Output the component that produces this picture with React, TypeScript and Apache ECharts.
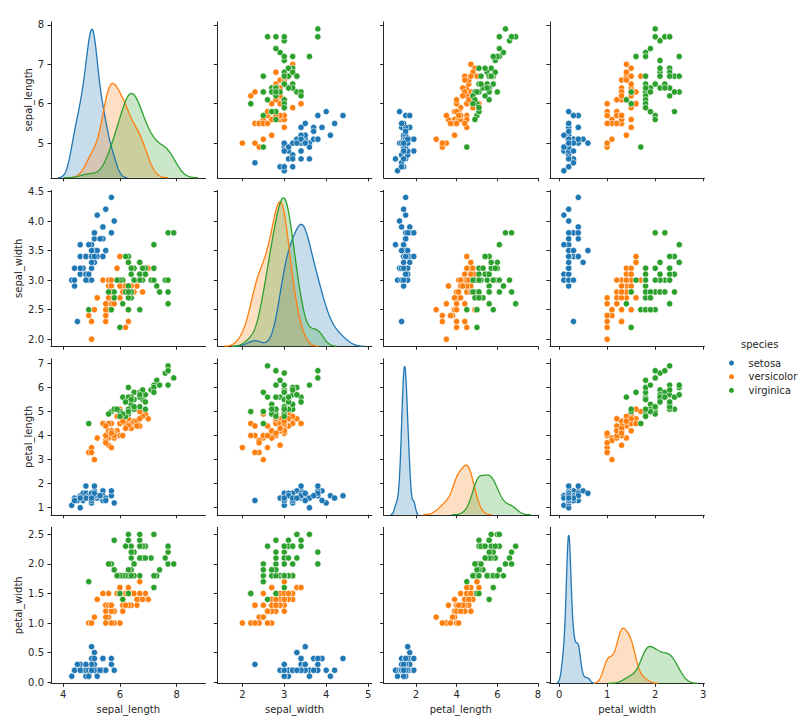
import React, { useEffect, useRef } from "react";
import * as echarts from "echarts";

const SPECIES = ["setosa", "versicolor", "virginica"];
const VARIABLES = ["sepal_length", "sepal_width", "petal_length", "petal_width"];
const COLORS = ["#1f77b4", "#ff7f0e", "#2ca02c"];

// Iris data (seaborn iris.csv), one array per species and variable
const setosaSepalLength = [5.1,4.9,4.7,4.6,5.0,5.4,4.6,5.0,4.4,4.9,5.4,4.8,4.8,4.3,5.8,5.7,5.4,5.1,5.7,5.1,5.4,5.1,4.6,5.1,4.8,5.0,5.0,5.2,5.2,4.7,4.8,5.4,5.2,5.5,4.9,5.0,5.5,4.9,4.4,5.1,5.0,4.5,4.4,5.0,5.1,4.8,5.1,4.6,5.3,5.0];
const setosaSepalWidth = [3.5,3.0,3.2,3.1,3.6,3.9,3.4,3.4,2.9,3.1,3.7,3.4,3.0,3.0,4.0,4.4,3.9,3.5,3.8,3.8,3.4,3.7,3.6,3.3,3.4,3.0,3.4,3.5,3.4,3.2,3.1,3.4,4.1,4.2,3.1,3.2,3.5,3.6,3.0,3.4,3.5,2.3,3.2,3.5,3.8,3.0,3.8,3.2,3.7,3.3];
const setosaPetalLength = [1.4,1.4,1.3,1.5,1.4,1.7,1.4,1.5,1.4,1.5,1.5,1.6,1.4,1.1,1.2,1.5,1.3,1.4,1.7,1.5,1.7,1.5,1.0,1.7,1.9,1.6,1.6,1.5,1.4,1.6,1.6,1.5,1.5,1.4,1.5,1.2,1.3,1.4,1.3,1.5,1.3,1.3,1.3,1.6,1.9,1.4,1.6,1.4,1.5,1.4];
const setosaPetalWidth = [0.2,0.2,0.2,0.2,0.2,0.4,0.3,0.2,0.2,0.1,0.2,0.2,0.1,0.1,0.2,0.4,0.4,0.3,0.3,0.3,0.2,0.4,0.2,0.5,0.2,0.2,0.4,0.2,0.2,0.2,0.2,0.4,0.1,0.2,0.2,0.2,0.2,0.1,0.2,0.2,0.3,0.3,0.2,0.6,0.4,0.3,0.2,0.2,0.2,0.2];

const versicolorSepalLength = [7.0,6.4,6.9,5.5,6.5,5.7,6.3,4.9,6.6,5.2,5.0,5.9,6.0,6.1,5.6,6.7,5.6,5.8,6.2,5.6,5.9,6.1,6.3,6.1,6.4,6.6,6.8,6.7,6.0,5.7,5.5,5.5,5.8,6.0,5.4,6.0,6.7,6.3,5.6,5.5,5.5,6.1,5.8,5.0,5.6,5.7,5.7,6.2,5.1,5.7];
const versicolorSepalWidth = [3.2,3.2,3.1,2.3,2.8,2.8,3.3,2.4,2.9,2.7,2.0,3.0,2.2,2.9,2.9,3.1,3.0,2.7,2.2,2.5,3.2,2.8,2.5,2.8,2.9,3.0,2.8,3.0,2.9,2.6,2.4,2.4,2.7,2.7,3.0,3.4,3.1,2.3,3.0,2.5,2.6,3.0,2.6,2.3,2.7,3.0,2.9,2.9,2.5,2.8];
const versicolorPetalLength = [4.7,4.5,4.9,4.0,4.6,4.5,4.7,3.3,4.6,3.9,3.5,4.2,4.0,4.7,3.6,4.4,4.5,4.1,4.5,3.9,4.8,4.0,4.9,4.7,4.3,4.4,4.8,5.0,4.5,3.5,3.8,3.7,3.9,5.1,4.5,4.5,4.7,4.4,4.1,4.0,4.4,4.6,4.0,3.3,4.2,4.2,4.2,4.3,3.0,4.1];
const versicolorPetalWidth = [1.4,1.5,1.5,1.3,1.5,1.3,1.6,1.0,1.3,1.4,1.0,1.5,1.0,1.4,1.3,1.4,1.5,1.0,1.5,1.1,1.8,1.3,1.5,1.2,1.3,1.4,1.4,1.7,1.5,1.0,1.1,1.0,1.2,1.6,1.5,1.6,1.5,1.3,1.3,1.3,1.2,1.4,1.2,1.0,1.3,1.2,1.3,1.3,1.1,1.3];

const virginicaSepalLength = [6.3,5.8,7.1,6.3,6.5,7.6,4.9,7.3,6.7,7.2,6.5,6.4,6.8,5.7,5.8,6.4,6.5,7.7,7.7,6.0,6.9,5.6,7.7,6.3,6.7,7.2,6.2,6.1,6.4,7.2,7.4,7.9,6.4,6.3,6.1,7.7,6.3,6.4,6.0,6.9,6.7,6.9,5.8,6.8,6.7,6.7,6.3,6.5,6.2,5.9];
const virginicaSepalWidth = [3.3,2.7,3.0,2.9,3.0,3.0,2.5,2.9,2.5,3.6,3.2,2.7,3.0,2.5,2.8,3.2,3.0,3.8,2.6,2.2,3.2,2.8,2.8,2.7,3.3,3.2,2.8,3.0,2.8,3.0,2.8,3.8,2.8,2.8,2.6,3.0,3.4,3.1,3.0,3.1,3.1,3.1,2.7,3.2,3.3,3.0,2.5,3.0,3.4,3.0];
const virginicaPetalLength = [6.0,5.1,5.9,5.6,5.8,6.6,4.5,6.3,5.8,6.1,5.1,5.3,5.5,5.0,5.1,5.3,5.5,6.7,6.9,5.0,5.7,4.9,6.7,4.9,5.7,6.0,4.8,4.9,5.6,5.8,6.1,6.4,5.6,5.1,5.6,6.1,5.6,5.5,4.8,5.4,5.6,5.1,5.1,5.9,5.7,5.2,5.0,5.2,5.4,5.1];
const virginicaPetalWidth = [2.5,1.9,2.1,1.8,2.2,2.1,1.7,1.8,1.8,2.5,2.0,1.9,2.1,2.0,2.4,2.3,1.8,2.2,2.3,1.5,2.3,2.0,2.0,1.8,2.1,1.8,1.8,1.8,2.1,1.6,1.9,2.0,2.2,1.5,1.4,2.3,2.4,1.8,1.8,2.1,2.4,2.3,1.9,2.3,2.5,2.3,1.9,2.0,2.3,1.8];

// Tick labels
const X_TICKS = [[4, 6, 8], [2, 3, 4, 5], [2, 4, 6, 8], [0, 1, 2, 3]];
const Y_TICKS = [[5, 6, 7, 8], [2.0, 2.5, 3.0, 3.5, 4.0, 4.5], [1, 2, 3, 4, 5, 6, 7], [0.0, 0.5, 1.0, 1.5, 2.0, 2.5]];
const Y_DECIMALS = [0, 1, 0, 1];

const DATA: number[][][] = [
  [setosaSepalLength, setosaSepalWidth, setosaPetalLength, setosaPetalWidth],
  [versicolorSepalLength, versicolorSepalWidth, versicolorPetalLength, versicolorPetalWidth],
  [virginicaSepalLength, virginicaSepalWidth, virginicaPetalLength, virginicaPetalWidth],
];

// Gaussian KDE, Scott's rule, cut = 3, 200 grid points (as seaborn kdeplot)
function kde(values: number[], weight: number) {
  const n = values.length;
  const mean = values.reduce((a, b) => a + b, 0) / n;
  const variance = values.reduce((a, b) => a + (b - mean) * (b - mean), 0) / (n - 1);
  const bw = Math.sqrt(variance) * Math.pow(n, -0.2);
  const lo = Math.min(...values) - 3 * bw;
  const hi = Math.max(...values) + 3 * bw;
  const pts: number[][] = [];
  const norm = 1 / (n * bw * Math.sqrt(2 * Math.PI));
  for (let i = 0; i < 200; i++) {
    const x = lo + ((hi - lo) * i) / 199;
    let s = 0;
    for (const v of values) {
      const z = (x - v) / bw;
      s += Math.exp(-0.5 * z * z);
    }
    pts.push([x, s * norm * weight]);
  }
  return { pts, lo, hi };
}

const FONT = "DejaVu Sans";
const TEXT = "#262626";
const LEFT0 = 51, DX = 166.3, W = 154.5;
const TOP0 = 21.8, DY = 168.5, H = 156;

function buildOption() {
  const total = DATA.reduce((a, d) => a + d[0].length, 0);
  const kdes = VARIABLES.map((_, v) => DATA.map((d) => kde(d[v], d[v].length / total)));

  // column (x) ranges: data + kde supports, 5% margins
  const xRange = VARIABLES.map((_, v) => {
    let lo = Infinity, hi = -Infinity;
    kdes[v].forEach((k) => { lo = Math.min(lo, k.lo); hi = Math.max(hi, k.hi); });
    DATA.forEach((d) => { lo = Math.min(lo, ...d[v]); hi = Math.max(hi, ...d[v]); });
    const m = (hi - lo) * 0.05;
    return [lo - m, hi + m];
  });
  const yRange = VARIABLES.map((_, v) => {
    let lo = Infinity, hi = -Infinity;
    DATA.forEach((d) => { lo = Math.min(lo, ...d[v]); hi = Math.max(hi, ...d[v]); });
    const m = (hi - lo) * 0.05;
    return [lo - m, hi + m];
  });

  const grids: any[] = [];
  const xAxes: any[] = [];
  const yAxes: any[] = [];
  const scatterSeries: any[] = [];
  const kdeSeries: any[] = [];

  const lineStyle = { color: TEXT, width: 1 };

  for (let r = 0; r < 4; r++) {
    for (let c = 0; c < 4; c++) {
      const g = grids.length;
      grids.push({ left: LEFT0 + c * DX, top: TOP0 + r * DY, width: W, height: H, containLabel: false });
      xAxes.push({
        type: "value",
        gridIndex: g,
        min: xRange[c][0],
        max: xRange[c][1],
        name: r === 3 ? VARIABLES[c] : "",
        nameLocation: "middle",
        nameGap: 21,
        nameTextStyle: { fontSize: 10, color: TEXT, fontFamily: FONT },
        splitLine: { show: false },
        axisLine: { show: true, onZero: false, lineStyle },
        axisTick: { show: true, length: 3.5, lineStyle, customValues: X_TICKS[c] },
        axisLabel: {
          show: r === 3,
          customValues: X_TICKS[c],
          margin: 6,
          fontSize: 10,
          color: TEXT,
          fontFamily: FONT,
          formatter: (val: number) => val.toFixed(0),
        },
      });
      const yIdx = yAxes.length;
      yAxes.push({
        type: "value",
        gridIndex: g,
        min: yRange[r][0],
        max: yRange[r][1],
        name: c === 0 ? VARIABLES[r] : "",
        nameLocation: "middle",
        nameGap: Y_DECIMALS[r] ? 28 : 17.5,
        nameTextStyle: { fontSize: 10, color: TEXT, fontFamily: FONT },
        splitLine: { show: false },
        axisLine: { show: true, onZero: false, lineStyle },
        axisTick: { show: true, length: 3.5, lineStyle, customValues: Y_TICKS[r] },
        axisLabel: {
          show: c === 0,
          customValues: Y_TICKS[r],
          margin: 7,
          fontSize: 10,
          color: TEXT,
          fontFamily: FONT,
          formatter: (val: number) => val.toFixed(Y_DECIMALS[r]),
        },
      });
      if (r !== c) {
        for (let s = 0; s < 3; s++) {
          const xs = DATA[s][c];
          const ys = DATA[s][r];
          scatterSeries.push({
            type: "scatter",
            name: SPECIES[s],
            xAxisIndex: g,
            yAxisIndex: yIdx,
            symbol: "circle",
            symbolSize: 6.3,
            color: COLORS[s],
            itemStyle: { color: COLORS[s], borderColor: "#ffffff", borderWidth: 0.6, opacity: 1 },
            emphasis: { disabled: true },
            data: xs.map((x, i) => [x, ys[i]]),
          });
        }
      } else {
        const kIdx = yAxes.length;
        let maxD = 0;
        kdes[c].forEach((k) => k.pts.forEach((p) => { if (p[1] > maxD) maxD = p[1]; }));
        yAxes.push({
          type: "value",
          gridIndex: g,
          show: false,
          min: 0,
          max: maxD * 1.05,
          splitLine: { show: false },
        });
        for (let s = 0; s < 3; s++) {
          kdeSeries.push({
            type: "line",
            name: SPECIES[s],
            xAxisIndex: g,
            yAxisIndex: kIdx,
            showSymbol: false,
            symbol: "none",
            smooth: false,
            color: COLORS[s],
            lineStyle: { color: COLORS[s], width: 1.3 },
            areaStyle: { color: COLORS[s], opacity: 0.25, origin: "start" },
            emphasis: { disabled: true },
            data: kdes[c][s].pts,
          });
        }
      }
    }
  }

  return {
    animation: false,
    backgroundColor: "#ffffff",
    textStyle: { fontFamily: FONT },
    title: {
      text: "species",
      left: 741,
      top: 339,
      padding: 0,
      textStyle: { fontSize: 10, fontWeight: "normal", color: TEXT, fontFamily: FONT },
    },
    legend: {
      data: SPECIES,
      orient: "vertical",
      left: 727,
      top: 358,
      padding: 0,
      icon: "circle",
      itemWidth: 24,
      itemHeight: 7,
      itemGap: 3.7,
      selectedMode: false,
      textStyle: { fontSize: 10, color: TEXT, fontFamily: FONT },
    },
    grid: grids,
    xAxis: xAxes,
    yAxis: yAxes,
    series: [...scatterSeries, ...kdeSeries],
  };
}

export default function App() {
  const ref = useRef<HTMLDivElement>(null);
  useEffect(() => {
    if (!ref.current) return;
    const chart = echarts.init(ref.current, undefined, { renderer: "svg" });
    chart.setOption(buildOption() as any);
    return () => chart.dispose();
  }, []);
  return (
    <div
      ref={ref}
      style={{ position: "absolute", left: 0, top: 0, width: 799, height: 723, background: "#fff" }}
    />
  );
}
